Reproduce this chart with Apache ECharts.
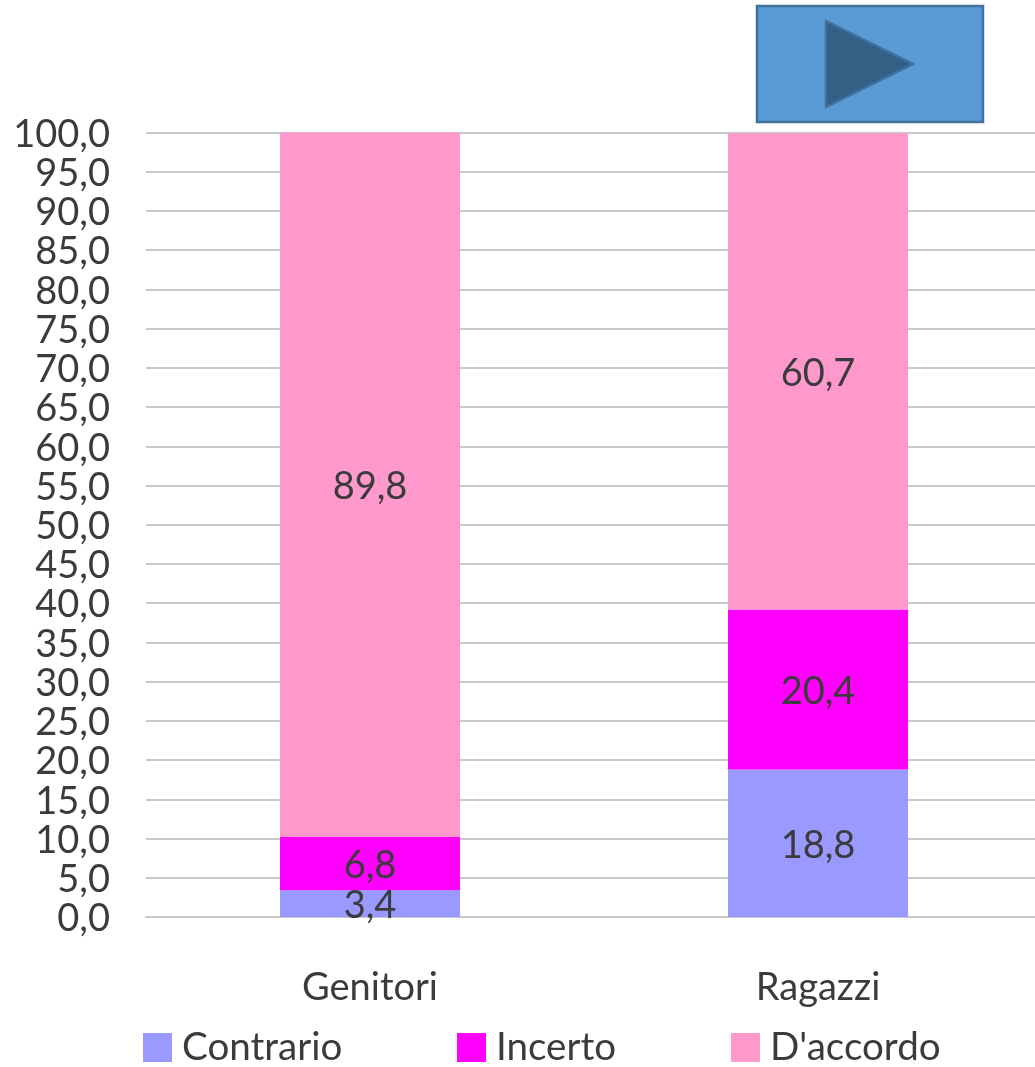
<!DOCTYPE html>
<html>
<head>
<meta charset="utf-8">
<style>
  html, body { margin: 0; padding: 0; background: #fff; overflow: hidden; }
  #main { width: 1035px; height: 1067px; }
</style>
<script src="https://cdn.jsdelivr.net/npm/echarts@6/dist/echarts.min.js"></script>
</head>
<body>
<div id="main"></div>
<script>
  const categories = ['Genitori', 'Ragazzi'];
  const contrario = [3.4, 18.8];
  const incerto = [6.8, 20.4];
  const accordo = [89.8, 60.7];

  const fontName = 'Lato';
  const textColor = '#3b3b3b';
  const comma = v => v.toFixed(1).replace('.', ',');

  function barSeries(name, values, color) {
    return {
      name: name,
      type: 'bar',
      stack: 'tot',
      barWidth: 180,
      data: values,
      itemStyle: { color: color },
      label: {
        show: true,
        position: 'inside',
        offset: [0, 2],
        fontFamily: fontName,
        fontSize: 38,
        color: textColor,
        formatter: p => comma(p.value)
      }
    };
  }

  function legendItem(name, left) {
    return {
      data: [name],
      left: left,
      top: 1028,
      padding: 0,
      itemWidth: 29,
      itemHeight: 29,
      icon: 'rect',
      selectedMode: false,
      textStyle: {
        fontFamily: fontName,
        fontSize: 38.6,
        color: textColor,
        padding: [0, 0, 0, 5]
      }
    };
  }

  let chart = echarts.init(document.getElementById('main'), null, { renderer: 'canvas' });

  chart.setOption({
    animation: false,
    backgroundColor: '#fff',
    grid: { left: 146, width: 896, top: 132.5, height: 784.5, outerBoundsMode: 'none' },
    legend: [
      legendItem('Contrario', 143),
      legendItem('Incerto', 457),
      legendItem("D'accordo", 731)
    ],
    xAxis: {
      type: 'category',
      data: categories,
      axisTick: { show: false },
      axisLine: { lineStyle: { color: '#c9c9c9', width: 2 } },
      axisLabel: {
        margin: 52,
        fontFamily: fontName,
        fontSize: 38,
        color: textColor
      }
    },
    yAxis: {
      type: 'value',
      min: 0,
      max: 100,
      interval: 5,
      axisLine: { show: false },
      axisTick: { show: false },
      splitLine: { lineStyle: { color: '#c9c9c9', width: 2 } },
      axisLabel: {
        margin: 36,
        fontFamily: fontName,
        fontSize: 38,
        color: textColor,
        verticalAlign: 'top',
        lineHeight: 4,
        formatter: v => comma(v)
      }
    },
    series: [
      barSeries('Contrario', contrario, '#9999ff'),
      barSeries('Incerto', incerto, '#ff00ff'),
      barSeries("D'accordo", accordo, '#ff99cc')
    ],
    graphic: [
      {
        type: 'rect',
        shape: { x: 757, y: 6, width: 226, height: 116 },
        style: { fill: '#5b9bd5', stroke: '#41719c', lineWidth: 2.5 }
      },
      {
        type: 'polygon',
        shape: { points: [[826, 21], [826, 107], [913, 64]] },
        style: { fill: '#355f85', stroke: '#41719c', lineWidth: 2.5 }
      }
    ]
  });
</script>
</body>
</html>
